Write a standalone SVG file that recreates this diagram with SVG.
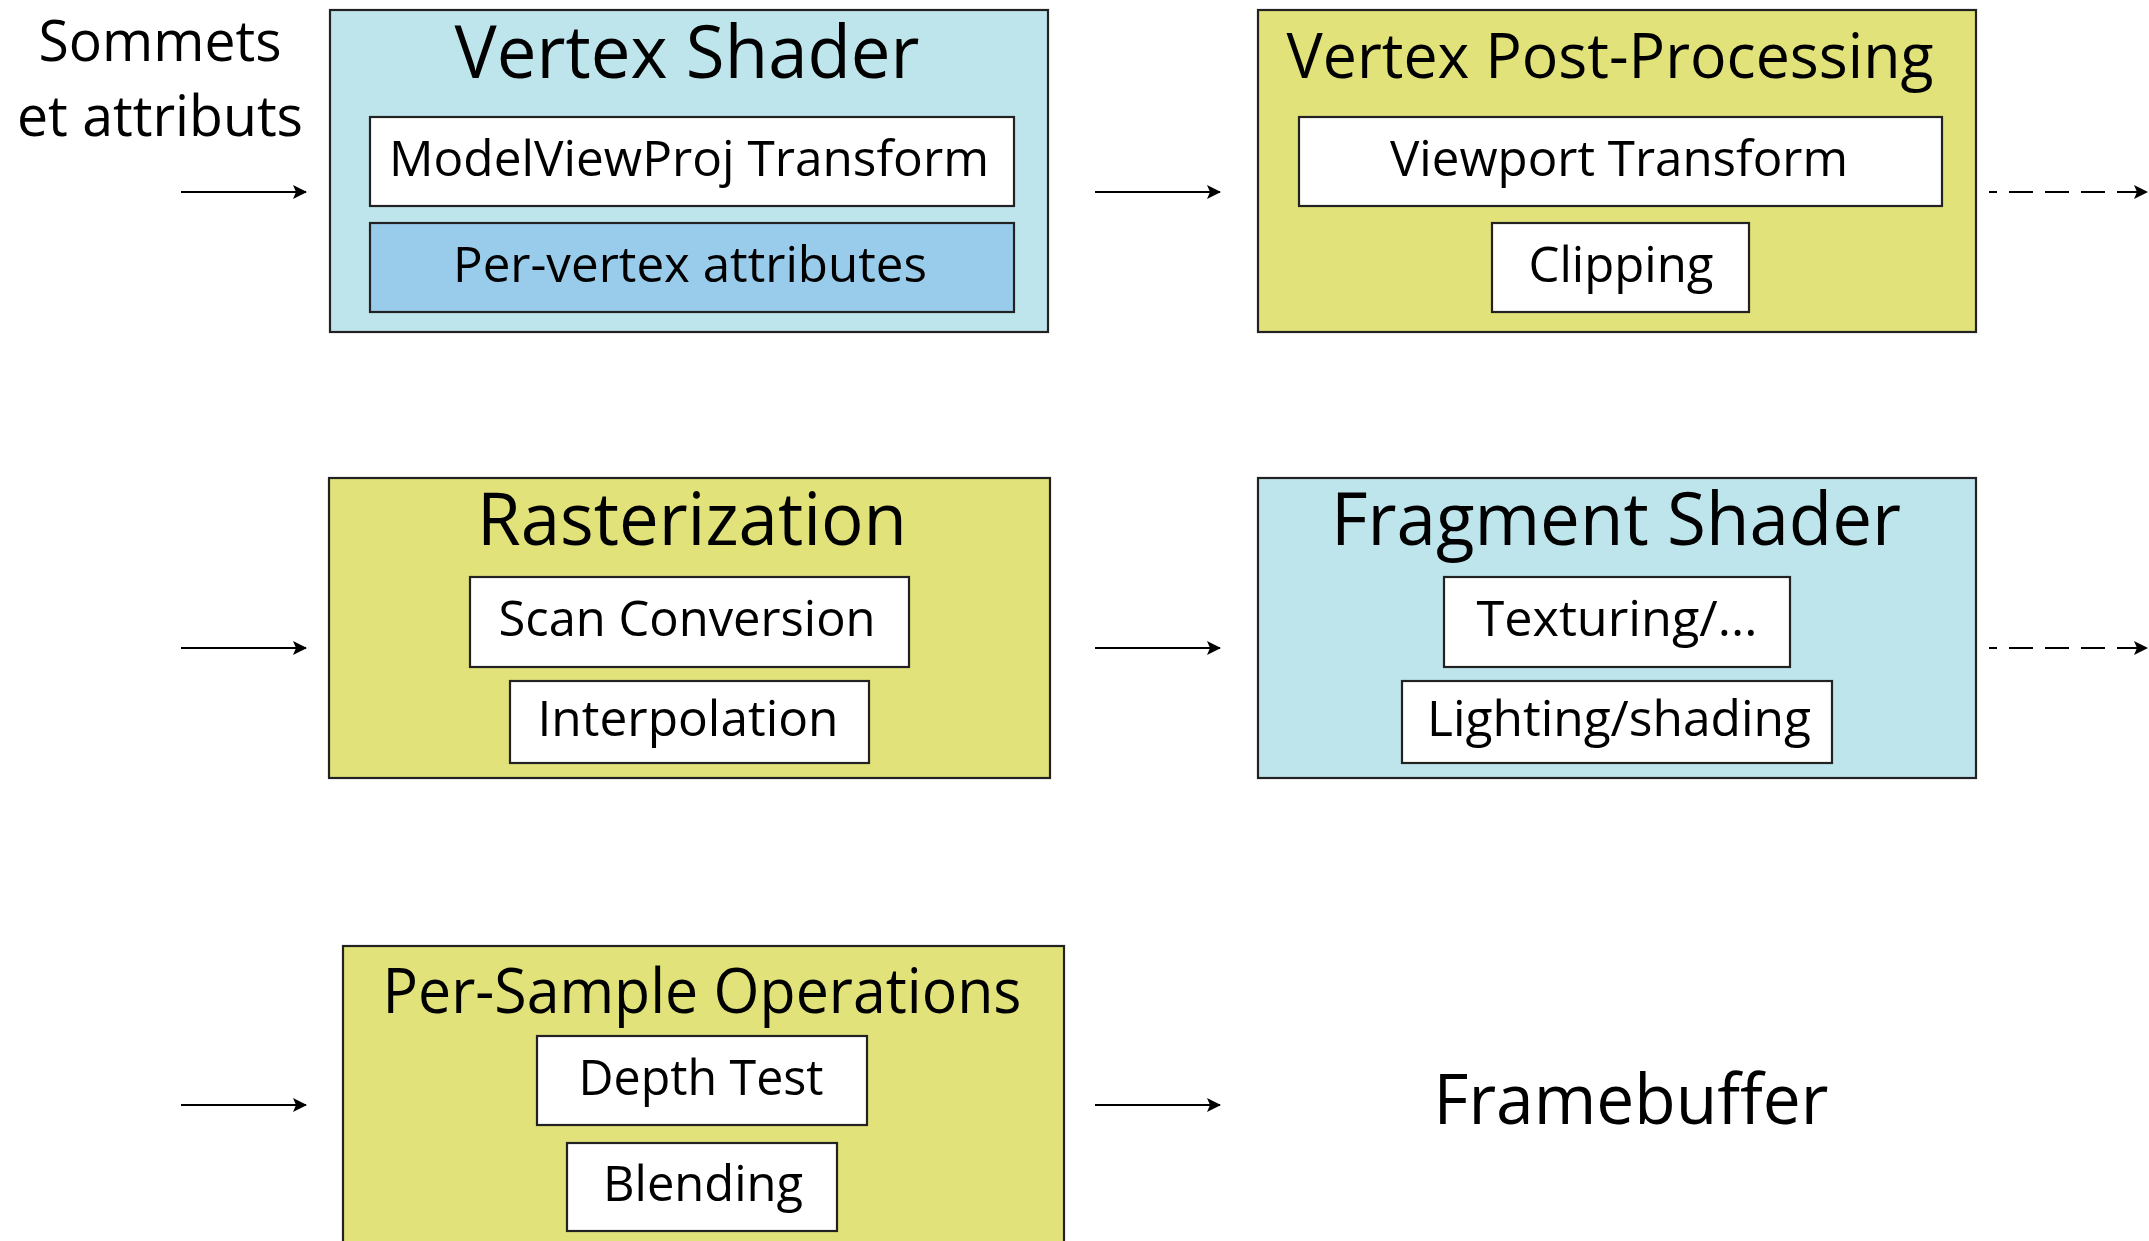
<svg xmlns="http://www.w3.org/2000/svg" width="2149" height="1241" viewBox="0 0 2149 1241">
<style>
text{font-family:"Open Sans","Liberation Sans",sans-serif;fill:#000;text-anchor:middle}
.stage{stroke:#222;stroke-width:2.2}
.sub{fill:#fff;stroke:#222;stroke-width:2.2}
.blue{fill:#bfe5ec}
.yellow{fill:#e2e27a}
.attr{fill:#99cbea;stroke:#222;stroke-width:2.2}
.title{font-size:73px}
.title2{font-size:62px}
.st{font-size:50px}
.lbl{font-size:57px}
.conn{stroke:#000;stroke-width:2.2;fill:none}
.dash{stroke-dasharray:24 12;stroke-dashoffset:16}
</style>
<defs>
<marker id="ah" markerUnits="userSpaceOnUse" markerWidth="16" markerHeight="14" refX="13" refY="7" orient="auto">
<path d="M0,0 L14,7 L0,14 L3,7 z" fill="#000"/>
</marker>
</defs>
<g id="input">
<text class="lbl" x="160" y="61" textLength="243" lengthAdjust="spacingAndGlyphs">Sommets</text>
<text class="lbl" x="160" y="136" textLength="286" lengthAdjust="spacingAndGlyphs">et attributs</text>
</g>
<g id="vertex-shader">
<rect class="stage blue" x="330" y="10" width="718" height="322"/>
<text class="title" x="687" y="78" textLength="465" lengthAdjust="spacingAndGlyphs">Vertex Shader</text>
<rect class="sub" x="370" y="117" width="644" height="89"/>
<text class="st" x="689" y="176" textLength="600" lengthAdjust="spacingAndGlyphs">ModelViewProj Transform</text>
<rect class="attr" x="370" y="223" width="644" height="89"/>
<text class="st" x="690" y="282" textLength="474" lengthAdjust="spacingAndGlyphs">Per-vertex attributes</text>
</g>
<g id="vertex-post-processing">
<rect class="stage yellow" x="1258" y="10" width="718" height="322"/>
<text class="title2" x="1610" y="78" textLength="647" lengthAdjust="spacingAndGlyphs">Vertex Post-Processing</text>
<rect class="sub" x="1299" y="117" width="643" height="89"/>
<text class="st" x="1619" y="176" textLength="458" lengthAdjust="spacingAndGlyphs">Viewport Transform</text>
<rect class="sub" x="1492" y="223" width="257" height="89"/>
<text class="st" x="1621" y="282" textLength="185" lengthAdjust="spacingAndGlyphs">Clipping</text>
</g>
<g id="rasterization">
<rect class="stage yellow" x="329" y="478" width="721" height="300"/>
<text class="title" x="692" y="545" textLength="430" lengthAdjust="spacingAndGlyphs">Rasterization</text>
<rect class="sub" x="470" y="577" width="439" height="90"/>
<text class="st" x="687" y="636" textLength="377" lengthAdjust="spacingAndGlyphs">Scan Conversion</text>
<rect class="sub" x="510" y="681" width="359" height="82"/>
<text class="st" x="688" y="736" textLength="301" lengthAdjust="spacingAndGlyphs">Interpolation</text>
</g>
<g id="fragment-shader">
<rect class="stage blue" x="1258" y="478" width="718" height="300"/>
<text class="title" x="1616" y="545" textLength="570" lengthAdjust="spacingAndGlyphs">Fragment Shader</text>
<rect class="sub" x="1444" y="577" width="346" height="90"/>
<text class="st" x="1617" y="636" textLength="281" lengthAdjust="spacingAndGlyphs">Texturing/...</text>
<rect class="sub" x="1402" y="681" width="430" height="82"/>
<text class="st" x="1619" y="736" textLength="384" lengthAdjust="spacingAndGlyphs">Lighting/shading</text>
</g>
<g id="per-sample-operations">
<rect class="stage yellow" x="343" y="946" width="721" height="320"/>
<text class="title2" x="702" y="1013" textLength="639" lengthAdjust="spacingAndGlyphs">Per-Sample Operations</text>
<rect class="sub" x="537" y="1036" width="330" height="89"/>
<text class="st" x="701" y="1095" textLength="245" lengthAdjust="spacingAndGlyphs">Depth Test</text>
<rect class="sub" x="567" y="1143" width="270" height="88"/>
<text class="st" x="703" y="1201" textLength="200" lengthAdjust="spacingAndGlyphs">Blending</text>
</g>
<g id="framebuffer">
<text x="1631" y="1124" font-size="70" textLength="395" lengthAdjust="spacingAndGlyphs">Framebuffer</text>
</g>
<g id="connectors">
<line class="conn" x1="181" y1="192" x2="306" y2="192" marker-end="url(#ah)"/>
<line class="conn" x1="1095" y1="192" x2="1220" y2="192" marker-end="url(#ah)"/>
<line class="conn dash" x1="1989" y1="192" x2="2147" y2="192" marker-end="url(#ah)"/>
<line class="conn" x1="181" y1="648" x2="306" y2="648" marker-end="url(#ah)"/>
<line class="conn" x1="1095" y1="648" x2="1220" y2="648" marker-end="url(#ah)"/>
<line class="conn dash" x1="1989" y1="648" x2="2147" y2="648" marker-end="url(#ah)"/>
<line class="conn" x1="181" y1="1105" x2="306" y2="1105" marker-end="url(#ah)"/>
<line class="conn" x1="1095" y1="1105" x2="1220" y2="1105" marker-end="url(#ah)"/>
</g>
</svg>
